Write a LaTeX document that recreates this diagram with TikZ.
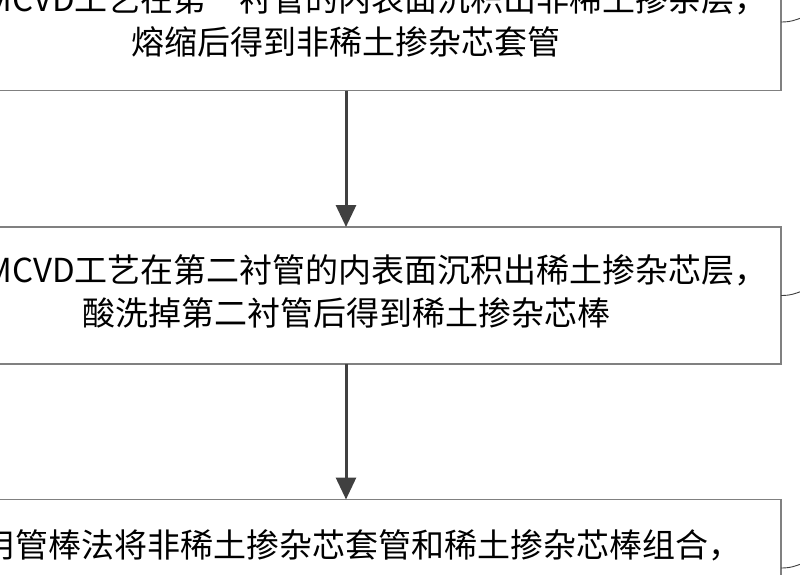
\documentclass[tikz,border=0pt]{standalone}
\usepackage{fontspec}
\usepackage{xcolor}
\usepackage{tikz}
\usetikzlibrary{arrows, arrows.meta, calc}
\newfontfamily\cjkfont{Noto Sans CJK SC}
\definecolor{boxgray}{HTML}{808080}
\definecolor{arrowgray}{HTML}{404040}

\begin{document}
\begin{tikzpicture}[x=1pt, y=-1pt]
        \tikzset{stepbox/.style={draw=boxgray, line width=1.5pt, minimum width=870pt,
            minimum height=137pt, inner sep=0pt, outer sep=0pt},
            steptext/.style={inner sep=0pt, font=\cjkfont\fontsize{33}{43}\selectfont, text=black},
            flow/.style={-{Triangle[length=22pt, width=20pt]}, line width=3pt, draw=arrowgray, fill=arrowgray},
            leader/.style={draw=arrowgray, line width=0.9pt}}

        \useasboundingbox (0, 0) rectangle (800, 574);
        \clip (0, 0) rectangle (800, 574);

        \node[stepbox] (s1) at (346, 22) {};
        \node[stepbox] (s2) at (346, 295.5) {};
        \node[stepbox] (s3) at (346, 568) {};

        \node[steptext, anchor=east] (s1a) at (768, -1) {MCVD工艺在第一衬管的内表面沉积出非稀土掺杂层，};
        \node[steptext] (s1b) at (346, 42) {熔缩后得到非稀土掺杂芯套管};
        \node[steptext, anchor=east] (s2a) at (768, 270) {MCVD工艺在第二衬管的内表面沉积出稀土掺杂芯层，};
        \node[steptext] (s2b) at (346, 313) {酸洗掉第二衬管后得到稀土掺杂芯棒};
        \node[steptext, anchor=east] (s3a) at (742, 545) {用管棒法将非稀土掺杂芯套管和稀土掺杂芯棒组合，};

        \draw[flow] (s1) -- (s2);
        \draw[flow] (s2) -- (s3);

        \foreach \s in {s1, s2, s3}
            \draw[leader] (\s.east) .. controls +(10, 0) and +(-6, 2) .. +(20, -4);

    \end{tikzpicture}
\end{document}
